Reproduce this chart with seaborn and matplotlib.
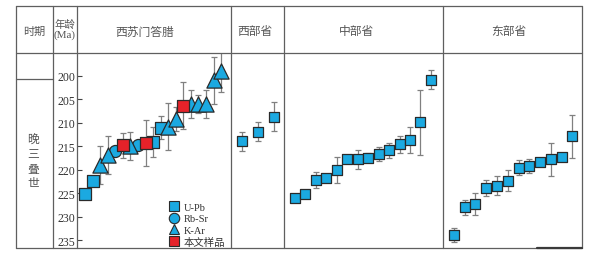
import pandas as pd
import matplotlib.pyplot as plt
import seaborn as sns
from matplotlib.lines import Line2D

# ages (Ma), +/- errors and dating method
ws_age = [225.2, 222.4, 219.0, 216.9, 215.9, 214.8, 214.9, 214.8, 214.3, 214.0,
          211.0, 210.8, 209.2, 206.3, 206.0, 206.0, 206.0, 200.9, 198.9]
ws_err = [0, 0, 4.0, 4.0, 0, 2.7, 3.0, 0, 5.0, 3.2,
          2.4, 5.0, 2.5, 5.0, 3.0, 2.0, 3.0, 5.0, 4.5]
ws_method = ['U-Pb', 'U-Pb', 'K-Ar', 'K-Ar', 'Rb-Sr', '本文样品', 'K-Ar', 'Rb-Sr', '本文样品', 'U-Pb',
             'U-Pb', 'K-Ar', 'K-Ar', '本文样品', 'K-Ar', 'K-Ar', 'K-Ar', 'K-Ar', 'K-Ar']

wp_age = [213.9, 211.9, 208.7]
wp_err = [2.0, 2.0, 3.1]

cp_age = [226.0, 225.2, 222.2, 221.8, 220.0, 217.8, 217.8, 217.4, 216.6, 215.8,
          214.6, 213.7, 209.9, 200.8]
cp_err = [0.6, 0.8, 1.8, 0, 2.8, 0, 2.1, 0.9, 1.5, 1.6, 1.8, 2.8, 7.0, 2.0]

ep_age = [233.9, 228.0, 227.3, 223.9, 223.4, 222.3, 219.6, 219.3, 218.3, 217.8,
          217.3, 212.9]
ep_err = [1.5, 1.6, 2.3, 1.7, 2.0, 2.2, 1.6, 1.5, 0, 3.5, 0, 4.5]

regions = ['西苏门答腊', '西部省', '中部省', '东部省']
methods = ['U-Pb', 'Rb-Sr', 'K-Ar', '本文样品']
yticks = [200, 205, 210, 215, 220, 225, 230, 235]
period = '晚三叠世'

sns.set_style('white')
plt.rcParams['font.family'] = ['Liberation Serif', 'Noto Sans CJK SC']
CJK = ['Noto Sans CJK SC', 'DejaVu Sans']

markers = {'U-Pb': 's', 'Rb-Sr': 'o', 'K-Ar': '^', '本文样品': 's'}
colors = {'U-Pb': '#1BA9E1', 'Rb-Sr': '#1BA9E1', 'K-Ar': '#1BA9E1', '本文样品': '#E52229'}
base_size = {'U-Pb': 52, 'Rb-Sr': 58, 'K-Ar': 92, '本文样品': 52}

W, H = 607, 255
fig = plt.figure(figsize=(W / 100, H / 100), dpi=100)


def px_axes(x0, x1, y0=54, y1=249):
    return fig.add_axes([x0 / W, 1 - y1 / H, (x1 - x0) / W, (y1 - y0) / H])


panels = [
    (ws_age, ws_err, ws_method, 77, 231, (-1.06, 19.3), 1.3),
    (wp_age, wp_err, ['U-Pb'] * len(wp_age), 231, 284, (-0.69, 2.62), 1.0),
    (cp_age, cp_err, ['U-Pb'] * len(cp_age), 284, 443, (-1.02, 14.15), 1.0),
    (ep_age, ep_err, ['U-Pb'] * len(ep_age), 443, 582, (-1.02, 11.9), 1.0),
]

axes = []
for age, err, meth, x0, x1, xlim, scale in panels:
    ax = px_axes(x0, x1)
    ax.patch.set_visible(False)
    df = pd.DataFrame({'n': range(len(age)), 'age': age, 'err': err, 'method': meth})
    e = df[df['err'] > 0]
    ax.errorbar(e['n'], e['age'], yerr=e['err'], fmt='none', ecolor='#808080',
                elinewidth=0.9, capsize=2.3, capthick=0.9, zorder=1)
    for m in methods:
        sub = df[df['method'] == m]
        if len(sub) == 0:
            continue
        sns.scatterplot(data=sub, x='n', y='age', marker=markers[m], s=base_size[m] * scale,
                        color=colors[m], edgecolor='#2a2a2a', linewidth=0.9,
                        ax=ax, zorder=3, legend=False)
    ax.set_xlim(*xlim)
    ax.set_ylim(236.7, 195.1)
    ax.set_xlabel('')
    ax.set_ylabel('')
    ax.set_xticks([])
    for s in ax.spines.values():
        s.set_visible(False)
    axes.append(ax)

ax = axes[0]
ax.set_yticks(yticks)
ax.set_yticklabels([str(t) for t in yticks])
ax.tick_params(axis='y', direction='in', length=3.5, width=0.8, color='#444444',
               pad=1.5, labelsize=8.5, labelcolor='#333333', left=True)
for a in axes[1:]:
    a.set_yticks([])

handles = [Line2D([], [], ls='none', marker=markers[m], markersize=7.5, markerfacecolor=colors[m],
                  markeredgecolor='#2a2a2a', markeredgewidth=0.8) for m in methods]
leg = ax.legend(handles, methods, loc='lower right', bbox_to_anchor=(0.96, 0.005),
                frameon=False, fontsize=7.5, handlelength=0.8, handletextpad=0.45,
                labelspacing=0.22, borderpad=0, borderaxespad=0)
for t in leg.get_texts():
    t.set_color('#333333')

# table frame and header
ov = fig.add_axes([0, 0, 1, 1], zorder=10)
ov.set_xlim(0, W)
ov.set_ylim(H, 0)
ov.axis('off')
ov.patch.set_visible(False)
lc, lw = '#5f5f5f', 0.9
for y in [7, 54, 249]:
    ov.plot([16, 582], [y, y], color=lc, lw=lw)
ov.plot([16, 53], [80, 80], color=lc, lw=lw)
for x in [16, 53, 77, 231, 284, 443, 582]:
    ov.plot([x, x], [7, 249], color=lc, lw=lw)
ov.plot([537, 582], [249, 249], color='#3a3a3a', lw=1.6)

hc = '#555555'
ov.text(34, 32, '时期', ha='center', va='center', fontsize=8, color=hc, family=CJK)
ov.text(65, 25, '年龄', ha='center', va='center', fontsize=7.5, color=hc, family=CJK)
ov.text(65, 35, '(Ma)', ha='center', va='center', fontsize=8, color=hc, family='Liberation Serif')
for name, xc in zip(regions, [144.5, 254.5, 357, 508.5]):
    ov.text(xc, 32, name, ha='center', va='center', fontsize=8.5, color=hc, family=CJK)
ov.text(33, 162, '\n'.join(period), ha='center', va='center', fontsize=8.5,
        color=hc, family=CJK, linespacing=1.15)

fig.savefig('out.png', dpi=100)
